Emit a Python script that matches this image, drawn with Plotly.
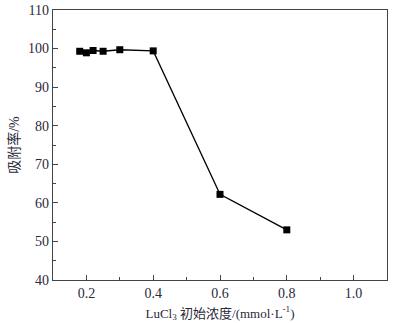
import plotly.graph_objects as go

conc = [0.18, 0.20, 0.22, 0.25, 0.30, 0.40, 0.60, 0.80]
adsorption = [99.3, 98.9, 99.5, 99.3, 99.7, 99.4, 62.2, 53.0]

x_ticks = [0.2, 0.4, 0.6, 0.8, 1.0]
x_ticklabels = ["0.2", "0.4", "0.6", "0.8", "1.0"]
y_ticks = [40, 50, 60, 70, 80, 90, 100, 110]

FONT = "Liberation Serif, Noto Sans CJK SC, serif"
TXT = "#2a2a3a"

fig = go.Figure()
fig.add_trace(go.Scatter(
    x=conc, y=adsorption, mode="lines+markers",
    line=dict(color="black", width=1.3),
    marker=dict(symbol="square", size=7, color="black"),
    showlegend=False,
))

axis_common = dict(
    showline=True, linecolor="#444", linewidth=1.2, mirror=True,
    ticks="inside", ticklen=5, tickwidth=1, tickcolor="#444",
    showgrid=False, zeroline=False, automargin=False,
    tickfont=dict(family=FONT, size=14, color=TXT),
)

fig.update_layout(
    width=406, height=323,
    margin=dict(l=53, r=19, t=10, b=43),
    paper_bgcolor="white", plot_bgcolor="white",
    xaxis=dict(
        range=[0.1, 1.1], tickvals=x_ticks, ticktext=x_ticklabels,
        minor=dict(ticks="inside", ticklen=3, tickcolor="#444", dtick=0.1, tick0=0.1),
        title=dict(text="LuCl<sub>3</sub> 初始浓度/(mmol·L<sup>-1</sup>)",
                   font=dict(family=FONT, size=13, color=TXT), standoff=8),
        **axis_common,
    ),
    yaxis=dict(
        range=[40, 110], tickvals=y_ticks,
        minor=dict(ticks="inside", ticklen=3, tickcolor="#444", dtick=5, tick0=40),
        title=dict(text="吸附率/%", font=dict(family=FONT, size=14, color=TXT), standoff=5),
        **axis_common,
    ),
)

fig.write_html("out.html")
